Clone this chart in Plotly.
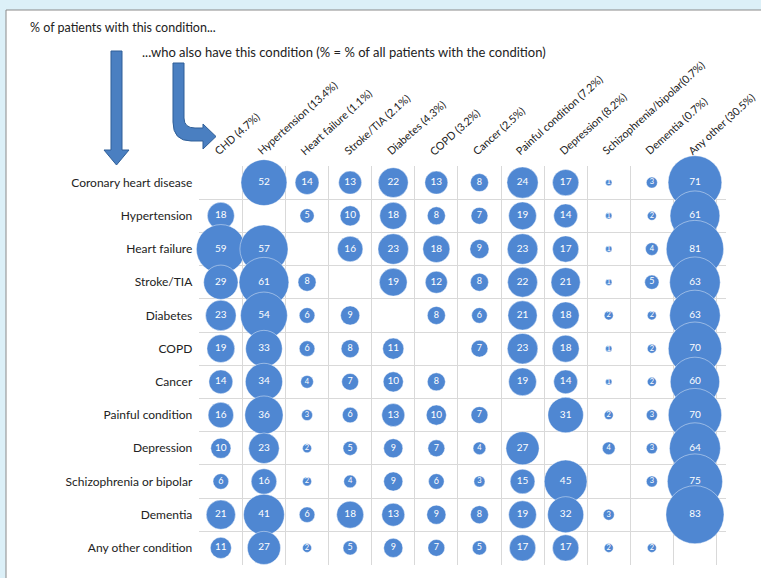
import plotly.graph_objects as go
import numpy as np

W, H = 761, 578

col_labels = ["CHD (4.7%)", "Hypertension (13.4%)", "Heart failure (1.1%)", "Stroke/TIA (2.1%)",
              "Diabetes (4.3%)", "COPD (3.2%)", "Cancer (2.5%)", "Painful condition (7.2%)",
              "Depression (8.2%)", "Schizophrenia/bipolar(0.7%)", "Dementia (0.7%)", "Any other (30.5%)"]
row_labels = ["Coronary heart disease", "Hypertension", "Heart failure", "Stroke/TIA", "Diabetes",
              "COPD", "Cancer", "Painful condition", "Depression", "Schizophrenia or bipolar",
              "Dementia", "Any other condition"]

chd = [None, 52, 14, 13, 22, 13, 8, 24, 17, 1, 3, 71]
hypertension = [18, None, 5, 10, 18, 8, 7, 19, 14, 1, 2, 61]
heart_failure = [59, 57, None, 16, 23, 18, 9, 23, 17, 1, 4, 81]
stroke = [29, 61, 8, None, 19, 12, 8, 22, 21, 1, 5, 63]
diabetes = [23, 54, 6, 9, None, 8, 6, 21, 18, 2, 2, 63]
copd = [19, 33, 6, 8, 11, None, 7, 23, 18, 1, 2, 70]
cancer = [14, 34, 4, 7, 10, 8, None, 19, 14, 1, 2, 60]
painful = [16, 36, 3, 6, 13, 10, 7, None, 31, 2, 3, 70]
depression = [10, 23, 2, 5, 9, 7, 4, 27, None, 4, 3, 64]
schizophrenia = [6, 16, 2, 4, 9, 6, 3, 15, 45, None, 3, 75]
dementia = [21, 41, 6, 18, 13, 9, 8, 19, 32, 3, None, 83]
any_other = [11, 27, 2, 5, 9, 7, 5, 17, 17, 2, 2, None]

rows = [chd, hypertension, heart_failure, stroke, diabetes, copd, cancer, painful,
        depression, schizophrenia, dementia, any_other]

xs, ys, vals = [], [], []
for r, row in enumerate(rows):
    for c, v in enumerate(row):
        if v is not None:
            xs.append(c)
            ys.append(r)
            vals.append(v)
vals = np.array(vals, dtype=float)
sizes = 6.37 * np.sqrt(vals)

BLUE = "#4f87d2"
FONT = "Lato"
TXT = "#222222"

fig = go.Figure()
fig.add_trace(go.Scatter(
    x=xs, y=ys, mode="markers+text",
    text=[str(int(v)) for v in vals],
    textposition="middle center",
    textfont=dict(color="white", size=[10 if v >= 10 else (9 if v >= 5 else 7.5) for v in vals], family=FONT),
    marker=dict(size=sizes, sizemode="diameter", color=BLUE,
                line=dict(color="rgba(255,255,255,0.7)", width=0.6), opacity=1),
    cliponaxis=False, hoverinfo="skip", showlegend=False,
))

# pixel geometry of the grid
x0p, x1p = 199.3, 726.0
cw = 43.1
xr = [-0.5, -0.5 + (x1p - x0p) / cw]
y0p, y1p = 166.0, 564.5

fig.update_layout(
    width=W, height=H, autosize=False,
    margin=dict(l=0, r=0, t=0, b=0, autoexpand=False),
    paper_bgcolor="#dcf0f8", plot_bgcolor="rgba(0,0,0,0)",
    font=dict(family=FONT, color=TXT),
    xaxis=dict(domain=[x0p / W, x1p / W], range=xr, side="top", automargin=False,
               tickvals=list(range(12)), showticklabels=False,
               showgrid=False, zeroline=False, showline=False, ticks="",
               minor=dict(tick0=-0.5, dtick=1, showgrid=True, gridcolor="#d9d9d9", gridwidth=1, ticks=""),
               fixedrange=True),
    yaxis=dict(domain=[1 - y1p / H, 1 - y0p / H], range=[11.5, -0.5], automargin=False,
               tickvals=list(range(12)), ticktext=row_labels,
               tickfont=dict(size=12, family=FONT, color=TXT),
               ticklabelstandoff=6,
               showgrid=False, zeroline=False, showline=False, ticks="",
               minor=dict(tick0=-0.5, dtick=1, showgrid=True, gridcolor="#d9d9d9", gridwidth=1, ticks=""),
               fixedrange=True),
)

# rotated column labels, starting at each column centre just above the grid
for i, lab in enumerate(col_labels):
    fig.add_annotation(xref="x", yref="paper", x=i, y=1 - 160 / H, text=lab, showarrow=False,
                       textangle=-42, xanchor="left", yanchor="bottom", xshift=-12,
                       font=dict(size=10.8, family=FONT, color=TXT))

def P(px, py):
    return px / W, 1 - py / H

def path_from(cmds):
    out = []
    for cmd in cmds:
        op, pts = cmd[0], cmd[1:]
        s = op
        for (px, py) in pts:
            a, b = P(px, py)
            s += f" {a:.5f},{b:.5f}"
        out.append(s)
    return " ".join(out) + " Z"

shapes = []
shapes.append(dict(type="rect", xref="paper", yref="paper", x0=6 / W, x1=1.05, y0=-0.05, y1=1 - 10 / H,
                   fillcolor="white", line=dict(color="#8a8a8a", width=1), layer="below"))
down = path_from([("M", (111, 51)), ("L", (122, 51)), ("L", (122, 150)), ("L", (129, 150)),
                  ("L", (116.5, 165)), ("L", (104, 150)), ("L", (111, 150))])
shapes.append(dict(type="path", xref="paper", yref="paper", path=down,
                   fillcolor="#4a7fc1", line=dict(color="#2f5f98", width=1), layer="above"))
larrow = path_from([("M", (173, 63)), ("L", (184, 63)), ("L", (184, 118)),
                    ("Q", (184, 128), (195, 128)), ("L", (203, 128)), ("L", (203, 124)),
                    ("L", (216, 136.5)), ("L", (203, 149)), ("L", (203, 141)), ("L", (191, 141)),
                    ("Q", (173, 141), (173, 122))])
shapes.append(dict(type="path", xref="paper", yref="paper", path=larrow,
                   fillcolor="#4a7fc1", line=dict(color="#2f5f98", width=1), layer="above"))
fig.update_layout(shapes=shapes)

fig.add_annotation(xref="paper", yref="paper", x=28 / W, y=1 - 28 / H, xanchor="left", yanchor="middle",
                   text="% of patients with this condition...", showarrow=False,
                   font=dict(size=12.5, family=FONT, color=TXT))
fig.add_annotation(xref="paper", yref="paper", x=140 / W, y=1 - 52 / H, xanchor="left", yanchor="middle",
                   text="...who also have this condition (% = % of all patients with the condition)",
                   showarrow=False, font=dict(size=13, family=FONT, color=TXT))

fig.write_html("out.html", config={"displayModeBar": False},
               post_script="document.body.style.margin='0';document.body.style.overflow='hidden';")
